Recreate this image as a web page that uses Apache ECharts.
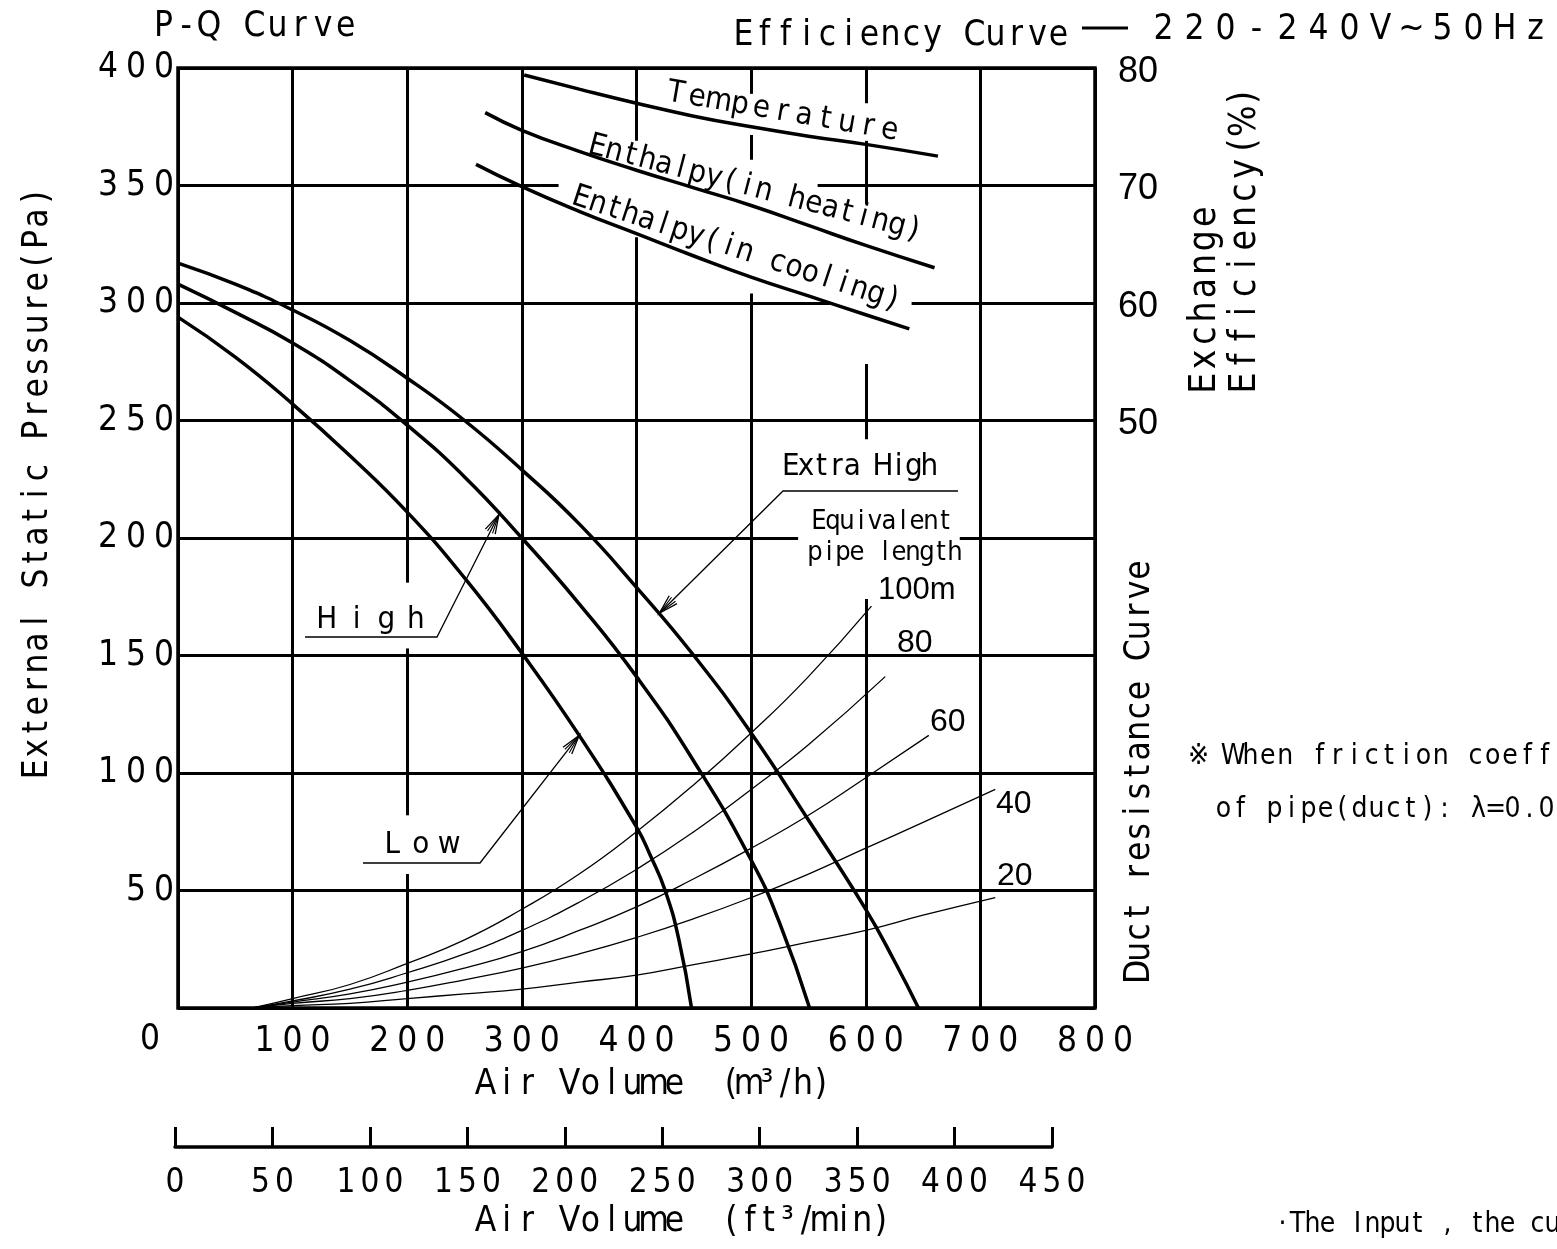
<!DOCTYPE html>
<html><head><meta charset="utf-8">
<script src="https://cdn.jsdelivr.net/npm/echarts@6/dist/echarts.min.js"></script>
<style>html,body{margin:0;padding:0;background:#fff}#c{width:1557px;height:1249px}</style>
</head><body><div id="c"></div>
<script>
// ---------- data ----------
const airTicks = [100, 200, 300, 400, 500, 600, 700, 800];
const pressureTicks = [50, 100, 150, 200, 250, 300, 350, 400];
const effTicks = [50, 60, 70, 80];
const cfmTicks = [0, 50, 100, 150, 200, 250, 300, 350, 400, 450];

const pqExtraHigh = [[0,317],[50,308],[100,297],[150,284],[200,268],[250,250],[300,229],[350,206],[400,179],[450,150],[500,117],[550,80],[600,42],[625,20],[646,0]];
const pqHigh = [[0,308],[50,296],[100,283],[150,267],[200,248],[250,226],[300,200],[350,172],[400,141],[450,105],[500,63],[525,36],[551,0]];
const pqLow = [[0,294],[50,277],[100,257],[150,235],[200,211],[250,183],[300,151],[350,116],[400,77],[412,65],[425,50],[437,29],[448,0]];

const duct100 = [[65,0],[100,4],[150,10],[200,19],[250,29],[300,42],[350,57],[400,75],[450,95],[500,117],[550,141],[605,171]];
const duct80 = [[65,0],[100,3],[150,8],[200,15],[250,23],[300,33],[350,45],[400,59],[450,75],[500,93],[550,112],[617,141]];
const duct60 = [[65,0],[100,2.5],[150,6],[200,11],[250,17],[300,24],[350,33],[400,43],[450,55],[500,68],[550,82],[600,98],[655,116]];
const duct40 = [[65,0],[100,2],[150,4],[200,7.5],[250,12],[300,17],[350,23],[400,30],[450,38],[500,47],[550,57],[600,68],[650,79],[713,93]];
const duct20 = [[65,0],[100,1],[150,2],[200,4],[250,6],[300,8],[350,11],[400,14],[450,18.5],[500,23],[550,28],[600,33],[650,39.5],[713,47]];

const effTemperature = [[302,79.4],[350,78.2],[400,77.0],[450,75.9],[500,75.0],[550,74.2],[600,73.5],[663,72.5]];
const effHeating = [[268,76.2],[300,74.7],[350,72.9],[400,71.3],[450,69.8],[500,68.3],[550,66.6],[600,64.9],[660,63.0]];
const effCooling = [[260,71.8],[300,69.9],[350,67.8],[400,65.9],[450,64.0],[500,62.2],[550,60.6],[600,59.0],[638,57.8]];

// ---------- fonts ----------
function hasFont(name){
  const c=document.createElement('canvas').getContext('2d');
  const s='abcdefghijklmnopqrstuvwxyzABCDEFGHIJ0123456789';
  c.font='40px monospace'; const a=c.measureText(s).width;
  c.font='40px "'+name+'", monospace'; const b=c.measureText(s).width;
  c.font='40px serif'; const a2=c.measureText(s).width;
  c.font='40px "'+name+'", serif'; const b2=c.measureText(s).width;
  return a!==b || a2!==b2;
}
const NARROW = ['Liberation Sans Narrow','DejaVu Sans Condensed','Roboto Condensed'].find(hasFont) || 'Liberation Sans';
const CAD = `"${NARROW}", "Liberation Sans", "Noto Sans CJK JP", sans-serif`;
const ROUND = `"Liberation Sans", Arial, sans-serif`;

// ---------- chart ----------
const chart = echarts.init(document.getElementById('c'), null, {renderer:'canvas'});
const line = (name, data, width, yAxisIndex) => ({
  name, type:'line', data, xAxisIndex:0, yAxisIndex:yAxisIndex||0, showSymbol:false, symbol:'none',
  smooth:0.5, lineStyle:{color:'#000', width}, z:3, silent:true, animation:false
});

const option = {
  animation:false,
  backgroundColor:'#fff',
  grid:[
    {left:178, top:68, width:917, height:940, show:true, borderColor:'#000', borderWidth:3.5, backgroundColor:'transparent'},
    {left:175, top:1146, width:877, height:1, show:false}
  ],
  xAxis:[
    {type:'value', gridIndex:0, min:0, max:800, interval:100, axisLine:{show:false}, axisTick:{show:false}, axisLabel:{show:false},
     splitLine:{show:true, lineStyle:{color:'#000', width:3}}},
    {type:'value', gridIndex:1, min:0, max:450, interval:50, position:'bottom',
     axisLine:{show:true, onZero:false, lineStyle:{color:'#000', width:3.5}},
     axisTick:{show:true, inside:true, length:20, lineStyle:{color:'#000', width:3}},
     axisLabel:{show:false}, splitLine:{show:false}}
  ],
  yAxis:[
    {type:'value', gridIndex:0, min:0, max:400, interval:50, axisLine:{show:false}, axisTick:{show:false}, axisLabel:{show:false},
     splitLine:{show:true, lineStyle:{color:'#000', width:3}}},
    {type:'value', gridIndex:0, min:0, max:80, interval:10, position:'right', axisLine:{show:false}, axisTick:{show:false},
     axisLabel:{show:false}, splitLine:{show:false}},
    {type:'value', gridIndex:1, min:0, max:1, show:false}
  ],
  series:[
    line('Extra High', pqExtraHigh, 3.5),
    line('High', pqHigh, 3.5),
    line('Low', pqLow, 3.5),
    line('100m', duct100, 1.3),
    line('80m', duct80, 1.3),
    line('60m', duct60, 1.3),
    line('40m', duct40, 1.3),
    line('20m', duct20, 1.3),
    line('Temperature', effTemperature, 3.5, 1),
    line('Enthalpy (in heating)', effHeating, 3.5, 1),
    line('Enthalpy (in cooling)', effCooling, 3.5, 1)
  ]
};
chart.setOption(option);

// ---------- annotations ----------
const P = (x,y) => chart.convertToPixel({xAxisIndex:0, yAxisIndex:0}, [x,y]);
const PE = (v) => chart.convertToPixel({yAxisIndex:1}, v);
const PC = (v) => chart.convertToPixel({xAxisIndex:1}, v);

function spaced(str, x, y, pitch, size, o){
  o = o || {};
  const chars = Array.from(str);
  const total = chars.length*pitch;
  let start = 0;
  if (o.align==='center') start = -total/2; else if (o.align==='right') start = -total;
  return {type:'group', x, y, rotation:o.rotation||0, z:10, silent:true,
    children: chars.map((ch,i)=>({type:'text', x:start+i*pitch+pitch/2, y:0, z:10,
      style:{text:ch, font:`normal ${size}px ${o.font||CAD}`, fill:'#000', align:'center', verticalAlign:'middle'}}))};
}
function plain(str, x, y, size, o){
  o = o || {};
  return {type:'text', x, y, z:10, silent:true, rotation:o.rotation||0,
    style:{text:str, font:`normal ${size}px ${o.font||ROUND}`, fill:'#000', align:o.align||'left', verticalAlign:'middle'}};
}
function seg(pts, w){
  return {type:'polyline', z:10, silent:true, shape:{points:pts}, style:{stroke:'#000', lineWidth:w||1.3, fill:null}};
}
function arrowHead(tip, from, len, ang){
  len = len||20; ang = ang||0.28;
  const dx=from[0]-tip[0], dy=from[1]-tip[1], L=Math.hypot(dx,dy), ux=dx/L, uy=dy/L;
  const r=(a)=>[tip[0]+len*(ux*Math.cos(a)-uy*Math.sin(a)), tip[1]+len*(ux*Math.sin(a)+uy*Math.cos(a))];
  return [seg([r(ang), tip, r(-ang)], 1.3), seg([r(ang*0.5), tip, r(-ang*0.5)], 1.1)];
}
function mask(x0,x1,y0,y1){
  const a=P(x0,y1), b=P(x1,y0);
  return {type:'rect', z:1, silent:true, shape:{x:a[0], y:a[1], width:b[0]-a[0], height:b[1]-a[1]}, style:{fill:'#fff'}};
}
const digits = v => String(v);

const g = [];
// gridline gaps around labels
[[195,205,153,181],[195,205,57,82],[395,405,328,369],[495,505,371.5,389],[495,505,304,361],
 [595,605,369,385],[595,605,274,342],[595,605,174,242],
 [332,558,347,353],[569,640,297,303],[541,682,197,203]].forEach(m=>g.push(mask(...m)));

// tick labels
pressureTicks.forEach(v=>{ const y=P(0,v)[1]; g.push(spaced(digits(v), 178, y, 28, 35, {align:'right'})); });
airTicks.forEach(v=>{ const x=P(v,0)[0]; g.push(spaced(digits(v), x, 1042, 28, 35, {align:'center'})); });
g.push(spaced('0', 140, 1040, 20, 35));
cfmTicks.forEach(v=>{ const x=PC(v); g.push(spaced(digits(v), x, 1183, 24, 33, {align:'center'})); });
effTicks.forEach(v=>{ const y=PE(v); g.push(plain(digits(v), 1118, y+4, 36)); });

// titles & axis names
g.push(spaced('P-Q Curve', 152, 27, 22.8, 35));
g.push(spaced('Efficiency Curve', 733, 36, 21, 35));
g.push(seg([[1082,28],[1128,28]], 3));
g.push(spaced('220-240V~50Hz', 1148, 30, 31, 35));
g.push(spaced('External Static Pressure(Pa)', 38, 780, 21.2, 35, {rotation:Math.PI/2}));
g.push(spaced('Air Volume', 475, 1085, 21, 35));
g.push(spaced('(m³/h)', 722, 1085, 18, 35));
g.push(spaced('Air Volume', 475, 1222, 21, 35));
g.push(spaced('(ft³/min)', 722, 1222, 18.7, 35));
g.push(spaced('Exchange', 1205, 395, 23.75, 37, {rotation:Math.PI/2}));
g.push(spaced('Efficiency(%)', 1245, 395, 23.8, 37, {rotation:Math.PI/2}));
g.push(spaced('Duct resistance Curve', 1140, 982, 20.1, 35, {rotation:Math.PI/2}));
g.push(spaced('※ When friction coefficient', 1190, 757, 17.3, 28));
g.push(spaced('of pipe(duct): λ=0.02', 1215, 810, 17, 28));
g.push(spaced('·The Input , the current', 1275, 1225, 15, 28));

// curve labels
g.push(spaced('Temperature', 665, 92, 21.7, 31, {rotation:-0.17}));
g.push(spaced('Enthalpy(in heating)', 589, 145, 17.2, 31, {rotation:-0.257}));
g.push(spaced('Enthalpy(in cooling)', 573, 196, 17.2, 31, {rotation:-0.315}));

// fan speed labels with leaders
g.push(spaced('High', 312, 620, 29.7, 31));
const hiTip = P(280,210);
g.push(seg([[305,637],[437,637],hiTip])); g.push(...arrowHead(hiTip,[437,637]));
g.push(spaced('Low', 378, 845, 28.5, 31));
const loTip = P(350,116);
g.push(seg([[363,863],[480,863],loTip])); g.push(...arrowHead(loTip,[480,863]));
g.push(spaced('Extra High', 783, 467, 15.4, 31));
const exTip = P(420,168);
g.push(seg([[958,491],[783,491],exTip])); g.push(...arrowHead(exTip,[783,491]));

// duct labels
g.push(spaced('Equivalent', 812, 522, 14, 27));
g.push(spaced('pipe length', 808, 553, 14, 27));
g.push(plain('100m', 878, 590, 31));
g.push(plain('80', 897, 643, 32));
g.push(plain('60', 930, 722, 32));
g.push(plain('40', 996, 804, 32));
g.push(plain('20', 997, 876, 32));

chart.setOption({graphic: g});
</script>
</body></html>
